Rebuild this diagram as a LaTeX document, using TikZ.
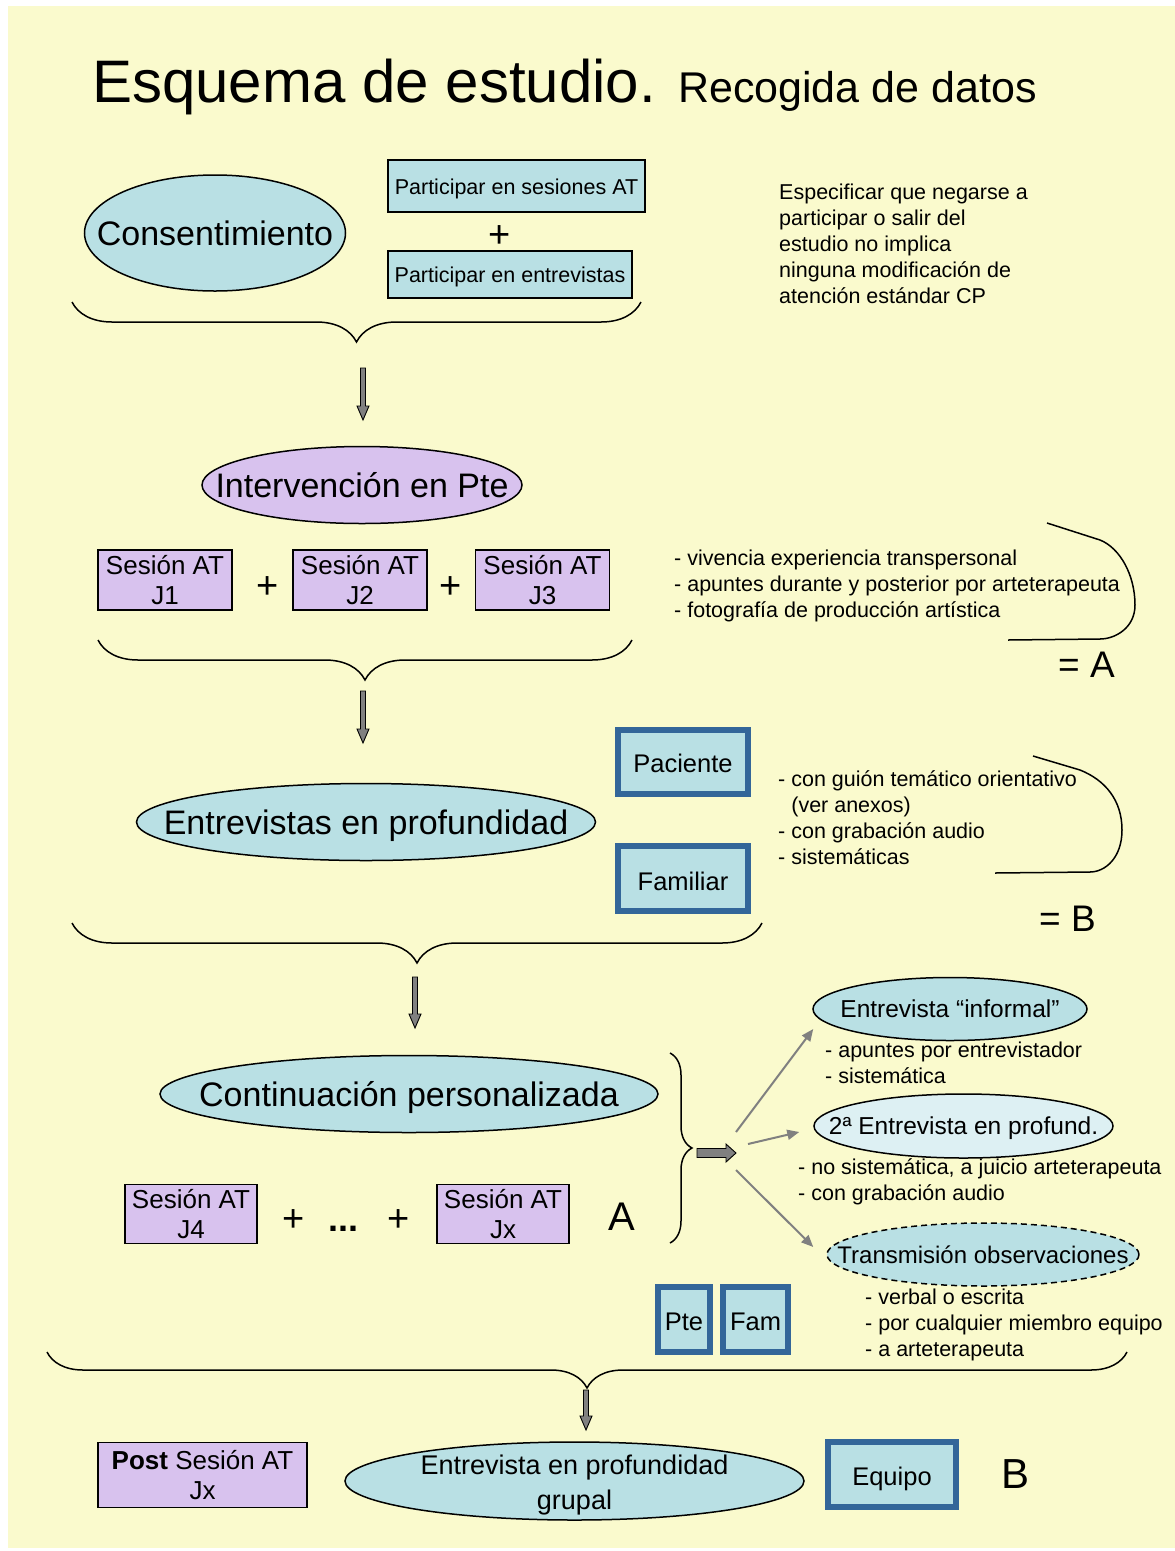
\documentclass[tikz,border=0pt]{standalone}
\usepackage{fontspec}
\setmainfont{Liberation Sans}
\usetikzlibrary{arrows.meta, positioning, shapes.geometric, calc, decorations.pathreplacing}
\definecolor{cbg}{HTML}{FAFACD}
\definecolor{cteal}{HTML}{B9E0E4}
\definecolor{cpale}{HTML}{DDF0F3}
\definecolor{clila}{HTML}{D8C2EE}
\definecolor{cframe}{HTML}{336699}
\definecolor{cgrey}{HTML}{808080}
\newcommand{\fsz}[2]{\fontsize{#1pt}{#2pt}\selectfont}
% text that does not size its oval
\newcommand{\zw}[2][-0.36em]{\makebox[0pt]{\raisebox{#1}[0pt][0pt]{#2}}}
% text set a little lower in its box
\newcommand{\dn}[2][3pt]{\raisebox{-#1}[\height][\depth]{#2}}
% grey block arrows, drawn from a coordinate
\newcommand{\blkdown}[2]{\draw[blk] ($(#1)+(-2.5,0)$) -- ++(0,#2-14) -- ++(-3.5,0) -- ($(#1)+(0,#2)$) -- ($(#1)+(6,#2-14)$) -- ++(-3.5,0) -- ($(#1)+(2.5,0)$) -- cycle;}
\newcommand{\blkright}[2]{\draw[blk] ($(#1)+(0,-4.5)$) -- ++(#2-10,0) -- ++(0,-4.5) -- ($(#1)+(#2,0)$) -- ($(#1)+(#2-10,9)$) -- ++(0,-4.5) -- ($(#1)+(0,4.5)$) -- cycle;}

\begin{document}
\begin{tikzpicture}[x=1pt, y=-1pt,
  oval/.style={ellipse, draw=black, fill=#1, line width=1.5pt, inner sep=0pt},
  oval/.default=cteal,
  tag/.style={draw=black, fill=cteal, line width=1.3pt, inner sep=0pt, font=\fsz{21.5}{26}},
  sesion/.style={draw=black, fill=clila, line width=1.3pt, inner sep=0pt, align=center, font=\fsz{26}{30}},
  blubox/.style={draw=cframe, fill=cteal, line width=6pt, inner sep=0pt, font=\fsz{25.5}{30}},
  note/.style={anchor=north west, align=left, inner sep=0pt, font=\fsz{21.5}{26}},
  plus/.style={anchor=base, inner sep=0pt, font=\fsz{38}{44}},
  big/.style={anchor=base west, inner sep=0pt, font=\fsz{#1}{#1}},
  hbrace/.style={decorate, decoration={brace, mirror, amplitude=#1}, line width=1.5pt},
  vbrace/.style={decorate, decoration={brace, amplitude=#1}, line width=1.5pt},
  bracket/.style={line width=1.5pt},
  blk/.style={draw=black, fill=cgrey, line width=0.9pt},
  pointer/.style={-{Triangle[length=12pt, width=10pt]}, draw=cgrey, line width=2pt}]
  \useasboundingbox (0,0) rectangle (1175,1551);
  \fill[cbg] (8,6) rectangle (1175,1548);
  \node[big=60] (title) at (92,102) {Esquema de estudio. {\fsz{43}{50}Recogida de datos}};
  % consent
  \node[oval, minimum width=261pt, minimum height=116pt, font=\fsz{34}{40}] (cons) at (215,233) {\zw{Consentimiento}};
  \node[tag, minimum width=257pt, minimum height=52pt] (ses) at (516.5,186) {\dn{Participar en sesiones AT}};
  \node[plus] (p0) at (500,247) {+};
  \node[tag, minimum width=244pt, minimum height=47pt] (ent) at (510,274.5) {\dn[2pt]{Participar en entrevistas}};
  \node[note] (nota) at (779,184) {Especificar que negarse a\\participar o salir del\\estudio no implica\\ninguna modificación de\\atención estándar CP};
  \draw[hbrace=40pt] (72,302) -- (641,302);
  \coordinate (a1) at (363,368);
  \blkdown{a1}{52}
  % sessions J1..J3
  \node[oval=clila, minimum width=320pt, minimum height=77pt, font=\fsz{34}{40}] (int) at (362,485) {\zw{Intervención en Pte}};
  \foreach \x/\j in {165/1, 360/2, 542.5/3}
    \node[sesion, minimum width=134pt, minimum height=60pt] (j\j) at (\x,580) {Sesión AT\\J\j};
  \node[plus] (p1) at (268,598) {+};
  \node[plus] (p2) at (451,598) {+};
  \node[note] (lista) at (674,550) {- vivencia experiencia transpersonal\\- apuntes durante y posterior por arteterapeuta\\- fotografía de producción artística};
  \draw[bracket] (1047,523) -- (1100,540) .. controls (1120,548) and (1135,575) .. (1135,605) .. controls (1135,628) and (1115,639) .. (1100,639) -- (1008,640);
  \node[big=37] (eqa) at (1058,677) {= A};
  \draw[hbrace=40pt] (98,640) -- (632,640);
  \coordinate (a2) at (363,691);
  \blkdown{a2}{52}
  % interviews
  \node[oval, minimum width=459pt, minimum height=77pt, font=\fsz{34}{40}] (prof) at (366,822) {\zw{Entrevistas en profundidad}};
  \node[blubox, minimum width=130pt, minimum height=64pt] (pac) at (683,762) {\dn[1pt]{Paciente}};
  \node[blubox, minimum width=130pt, minimum height=65pt] (fam) at (683,878.5) {\dn{Familiar}};
  \node[note] (listb) at (778,770) {- con guión temático orientativo\\\phantom{-}\ (ver anexos)\\- con grabación audio\\- sistemáticas};
  \draw[bracket] (1033,756) -- (1080,770) .. controls (1105,780) and (1122,800) .. (1122,830) .. controls (1122,858) and (1105,872) .. (1090,872) -- (995,873);
  \node[big=37] (eqb) at (1039,931) {= B};
  \draw[hbrace=40pt] (72,923) -- (762,923);
  \coordinate (a3) at (415,977);
  \blkdown{a3}{51}
  % continuation
  \node[oval, minimum width=498pt, minimum height=77pt, font=\fsz{34}{40}] (cont) at (409,1094) {\zw{Continuación personalizada}};
  \node[sesion, minimum width=132pt, minimum height=59pt] (j4) at (191,1214) {Sesión AT\\J4};
  \node[plus] (p3) at (294,1231) {+};
  \node[plus, font=\fsz{36}{40}\bfseries] (dots) at (343,1231) {...};
  \node[plus] (p4) at (399,1231) {+};
  \node[sesion, minimum width=132pt, minimum height=59pt] (jx) at (503,1214) {Sesión AT\\Jx};
  \node[big=40, anchor=base] (la) at (622,1230) {A};
  \draw[vbrace=22pt] (670,1053) -- (670,1243);
  \coordinate (hub) at (697,1153);
  \blkright{hub}{39}
  \coordinate (h1) at (736,1132);
  \coordinate (h2) at (748,1144);
  \coordinate (h3) at (736,1170);
  \node[oval, minimum width=274pt, minimum height=63pt, font=\fsz{24.5}{30}] (inf) at (950,1009) {\zw{Entrevista “informal”}};
  \node[note] (nota1) at (825,1042) {- apuntes por entrevistador\\- sistemática};
  \node[oval=cpale, minimum width=299pt, minimum height=64pt, font=\fsz{24.5}{30}] (seg) at (963.5,1126) {\zw{2ª Entrevista en profund.}};
  \node[note] (nota2) at (798,1158) {- no sistemática, a juicio arteterapeuta\\- con grabación audio};
  \node[oval, dash pattern=on 6pt off 4pt, minimum width=312pt, minimum height=63pt, font=\fsz{24}{30}] (tra) at (983,1254.5) {\zw{Transmisión observaciones}};
  \node[note] (nota3) at (865,1289) {- verbal o escrita\\- por cualquier miembro equipo\\- a arteterapeuta};
  \draw[pointer] (h1) -- ($(inf.west)+(1,20)$);
  \draw[pointer] (h2) -- ($(seg.west)+(-14,6)$);
  \draw[pointer] (h3) -- ($(tra.west)+(-13,-7.5)$);
  \node[blubox, minimum width=52pt, minimum height=65pt] (pte) at (684,1319.5) {\dn[2pt]{Pte}};
  \node[blubox, minimum width=65pt, minimum height=65pt] (famb) at (755.5,1319.5) {\dn[2pt]{Fam}};
  % group interview
  \draw[hbrace=36pt] (47,1352) -- (1127,1352);
  \coordinate (a5) at (586,1390);
  \blkdown{a5}{40}
  \node[sesion, minimum width=209pt, minimum height=65pt] (post) at (202.5,1475) {\textbf{Post} Sesión AT\\Jx};
  \node[oval, minimum width=459pt, minimum height=78pt, font=\fsz{27}{35}] (grup) at (574.5,1481) {\zw[-0.36em]{\begin{tabular}{@{}c@{}}Entrevista en profundidad\\grupal\end{tabular}}};
  \node[blubox, minimum width=128pt, minimum height=65pt] (equ) at (892,1474.5) {\dn[4pt]{Equipo}};
  \node[big=42] (lb) at (1001,1488) {B};
\end{tikzpicture}
\end{document}
